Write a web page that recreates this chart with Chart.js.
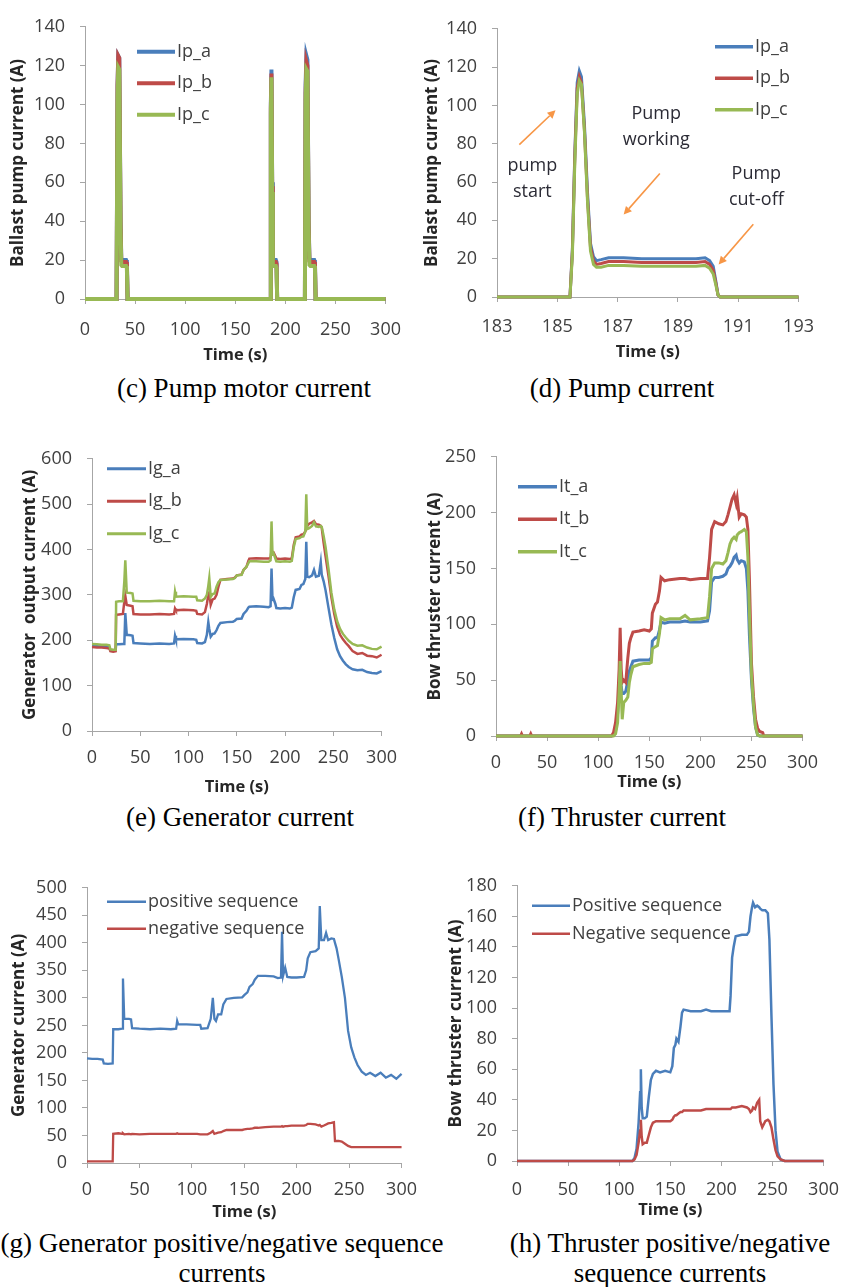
<!DOCTYPE html>
<html>
<head>
<meta charset="utf-8">
<script src="https://cdn.jsdelivr.net/npm/chart.js@4.4.1/dist/chart.umd.min.js"></script>
<style>
  html, body { margin: 0; padding: 0; background: #fff; }
  #page { position: relative; width: 851px; height: 1287px; overflow: hidden; background: #fff; }
  #page canvas { position: absolute; }
  .cap { position: absolute; font-family: "Liberation Serif", "Times New Roman", serif; font-size: 27px;
         line-height: 30px; color: #000; text-align: center; white-space: nowrap; transform: translateX(-50%); }
</style>
</head>
<body>
<div id="page"></div>
<script>
// ---- (c) pump motor current, whole run ----
var tPump = [0, 31.5, 32.5, 33.2, 34.2, 35.5, 36.2, 37, 41, 41.8, 42.5,
             184.8, 185.5, 186.1, 186.8, 187.5, 188.2, 190.5, 191.2, 191.8,
             219.5, 220.2, 221, 222, 223.2, 224, 225, 228.8, 229.5, 230.2, 300];
var ipA = [0, 0, 110, 125, 124, 40, 21, 20, 20, 19, 0,
           0, 100, 118, 60, 21, 20, 20, 19, 0,
           0, 110, 125, 123, 40, 21, 20, 20, 19, 0, 0];
var ipB = [0, 0, 110, 125, 124, 38, 19.5, 19, 19, 18, 0,
           0, 98, 116, 58, 19.5, 19, 19, 18, 0,
           0, 106, 122, 120, 38, 19.5, 19, 19, 18, 0, 0];
var ipC = [0, 0, 104, 119, 118, 35, 17.5, 17, 17, 16, 0,
           0, 95, 114, 55, 17.5, 17, 17, 16, 0,
           0, 102, 118, 117, 35, 17.5, 17, 17, 16, 0, 0];

// ---- (d) one pump start, 183-193 s ----
var tDetail = [183, 185.42, 185.5, 185.58, 185.66, 185.73, 185.8, 185.9, 186.0, 186.1,
               186.2, 186.3, 186.45, 186.7, 187.2, 187.8, 188.4, 189.0, 189.6, 189.9,
               190.05, 190.17, 190.26, 190.33, 190.4, 193];
var ipDetA = [0, 0, 25, 75, 112, 118, 115, 90, 55, 28,
              21, 19, 19.5, 20.5, 20.5, 20, 20, 20, 20, 20.5,
              19, 16, 8, 1, 0, 0];
var ipDetB = [0, 0, 24, 73, 109, 115, 112, 87, 52, 26,
              19, 17, 17.5, 18.5, 18.5, 18, 18, 18, 18, 18.5,
              17, 14, 7, 1, 0, 0];
var ipDetC = [0, 0, 22, 70, 106, 113, 111, 86, 50, 24,
              17, 15.5, 15.5, 16.5, 16.5, 16, 16, 16, 16, 16.5,
              15, 12, 6, 1, 0, 0];

// ---- (e) generator phase currents ----
var tGen = [0, 5, 10, 15, 18, 19, 22, 24.5, 25, 28,
            32, 33.5, 34.5, 36, 40, 42, 43, 50, 60, 70,
            80, 85, 86, 87, 95, 105, 108, 109, 114, 117,
            119, 120.5, 121.5, 123, 125, 127, 129, 131, 133, 140,
            146, 148, 150, 155, 157, 160, 162, 163, 170, 178,
            183, 185, 186, 187, 188, 190, 191, 195, 200, 205,
            207, 209, 211, 215, 217, 219, 221, 222, 223, 225,
            228, 230, 232, 235, 237, 238, 240, 242, 245, 248,
            251, 254, 257, 260, 263, 266, 270, 275, 280, 285,
            290, 295, 300];
var igA = [188, 187, 186, 186, 185, 178, 177, 178, 191, 191,
           192, 192, 260, 212, 211, 210, 194, 193, 192, 193,
           192, 193, 210, 202, 203, 202, 201, 194, 193, 196,
           212, 240, 225, 208, 214, 215, 222, 232, 238, 240,
           241, 243, 247, 248, 258, 265, 272, 274, 275, 274,
           273, 275, 358, 290, 292, 280, 271, 270, 271, 270,
           272, 295, 311, 313, 322, 324, 335, 417, 340, 339,
           343, 355, 340, 342, 372, 345, 330, 310, 272, 235,
           205, 180, 165, 155, 147, 141, 136, 134, 135, 130,
           128, 127, 132];
var igB = [185, 184, 184, 183, 182, 176, 175, 176, 256, 257,
           258, 285, 298, 278, 276, 275, 258, 257, 257, 258,
           257, 258, 270, 266, 267, 266, 265, 258, 257, 262,
           280, 300, 305, 278, 290, 292, 300, 318, 333, 335,
           336, 338, 343, 345, 355, 362, 375, 380, 381, 380,
           380, 382, 398, 395, 394, 385, 380, 379, 380, 379,
           381, 410, 427, 429, 433, 434, 440, 447, 452, 457,
           460, 463, 456, 455, 452, 448, 415, 385, 342, 295,
           258, 230, 212, 202, 194, 187, 176, 170, 172, 166,
           165, 162, 168];
var igC = [192, 191, 190, 190, 189, 180, 179, 179, 285, 286,
           286, 330, 376, 305, 304, 303, 287, 286, 286, 287,
           286, 286, 307, 296, 297, 296, 296, 288, 287, 292,
           300, 320, 337, 296, 302, 303, 318, 328, 333, 334,
           335, 337, 343, 344, 355, 362, 370, 374, 374, 373,
           373, 376, 462, 390, 392, 380, 374, 373, 374, 373,
           375, 405, 423, 425, 428, 429, 440, 522, 445, 447,
           452, 460, 451, 450, 452, 450, 430, 405, 358, 305,
           268, 242, 225, 214, 206, 199, 192, 188, 189, 184,
           181, 180, 186];

// ---- (f) bow thruster phase currents ----
var tThr = [0, 24, 25, 26, 33, 34, 35, 113, 115, 117,
            119, 120.5, 121.5, 122.5, 123.5, 125, 127, 129, 130.5, 132,
            134, 140, 145, 150, 152, 153, 156, 158, 160, 161.5,
            165, 170, 180, 185, 190, 200, 207, 209, 211, 214,
            218, 222, 225, 227, 229, 231, 233, 235, 236, 238,
            240, 243, 245, 246.5, 248, 250, 252, 254, 256, 258,
            261, 262, 300];
var itA = [0, 0, 0, 0, 0, 0, 0, 0, 1, 5,
           20, 40, 55, 45, 38, 38, 40, 50, 58, 62,
           67, 68, 68, 68, 70, 85, 88, 88, 95, 102,
           101, 102, 102, 103, 102, 102, 103, 112, 138, 142,
           142, 143, 145, 150, 152, 155, 160, 162, 158, 155,
           157, 156, 150, 130, 90, 50, 25, 8, 1, 0,
           0, 0, 0];
var itB = [0, 0, 2, 0, 0, 2, 0, 0, 3, 12,
           30, 60, 97, 60, 48, 50, 48, 70, 83, 88,
           93, 94, 95, 94, 96, 110, 118, 120, 130, 142,
           139, 140, 141, 141, 140, 141, 141, 160, 185, 192,
           190, 189, 192, 198, 205, 212, 216, 208, 213, 196,
           199, 198, 196, 185, 140, 65, 35, 15, 7, 4,
           3, 0, 0];
var itC = [0, 0, 0, 0, 0, 0, 0, 0, 0, 2,
           12, 40, 67, 40, 15, 30, 32, 35, 48, 55,
           62, 64, 65, 65, 66, 78, 80, 81, 92, 106,
           104, 105, 105, 108, 104, 105, 106, 125, 150, 155,
           155, 154, 157, 164, 172, 176, 178, 176, 180, 182,
           183, 185, 183, 160, 110, 55, 28, 8, 1, 0,
           0, 0, 0];

// ---- (g) generator sequence components ----
var tSeqG = [0, 5, 10, 15, 16, 20, 24.5, 25, 30, 33.5,
             34.3, 35.5, 40, 42, 43, 50, 60, 70, 80, 85,
             86, 87, 95, 105, 108, 109, 115, 118, 120, 121.5,
             123, 125, 128, 130, 133, 140, 148, 150, 153, 155,
             158, 160, 163, 170, 178, 182, 185, 186, 187, 189,
             191, 195, 200, 207, 209, 210.5, 213, 218, 221, 222,
             223.5, 226, 228, 230, 233, 235.5, 236.5, 238, 240, 243,
             246, 249, 252, 255, 258, 262, 266, 270, 275, 280,
             285, 290, 295, 300];
var posG = [190, 189, 189, 188, 181, 180, 181, 243, 243, 244,
            335, 262, 262, 261, 245, 244, 243, 244, 243, 244,
            258, 252, 252, 251, 251, 244, 245, 262, 300, 262,
            258, 270, 270, 288, 298, 300, 301, 305, 310, 320,
            325, 333, 340, 340, 339, 336, 337, 420, 340, 355,
            338, 337, 337, 338, 350, 372, 383, 385, 390, 467,
            405, 405, 418, 405, 408, 407, 400, 390, 370, 338,
            300, 240, 210, 192, 178, 166, 160, 164, 158, 164,
            155, 160, 153, 162];
var negG = [3, 3, 3, 3, 3, 3, 3, 53, 54, 53,
            54, 52, 53, 52, 53, 52, 53, 53, 53, 53,
            54, 53, 53, 53, 52, 52, 52, 55, 58, 53,
            54, 55, 56, 58, 60, 60, 60, 61, 62, 62,
            63, 64, 64, 65, 66, 66, 66, 67, 66, 67,
            67, 68, 68, 68, 69, 71, 71, 70, 68, 69,
            66, 68, 70, 72, 73, 74, 40, 40, 40, 39,
            35, 31, 29, 29, 29, 29, 29, 29, 29, 29,
            29, 29, 29, 29];

// ---- (h) thruster sequence components ----
var tSeqT = [0, 113, 115, 117, 119, 120.5, 121.2, 122, 123, 125,
             127, 129, 131, 133, 136, 140, 145, 150, 152, 153.5,
             155, 156, 158, 160, 161.5, 163, 170, 180, 185, 190,
             200, 208, 209, 210.5, 212, 214, 220, 225, 227, 228.5,
             230, 231, 233, 235, 237, 238, 240, 243, 245.5, 247,
             249, 251, 253, 255, 258, 262, 300];
var posT = [0, 0, 2, 8, 25, 45, 60, 35, 28, 28,
            29, 42, 53, 57, 59, 58, 59, 58, 62, 74,
            76, 80, 78, 88, 97, 99, 98, 98, 99, 98,
            98, 98, 108, 133, 140, 147, 148, 148, 150, 160,
            166, 169, 166, 167, 166, 165, 164, 164, 162, 145,
            95, 50, 20, 6, 1, 0, 0];
var negT = [0, 0, 1, 4, 12, 20, 27, 16, 11, 12,
            12, 17, 22, 25, 26, 26, 26, 26, 27, 29,
            30, 30, 31, 32, 32, 33, 33, 33, 34, 34,
            34, 34, 34, 35, 35, 35, 36, 35, 34, 32,
            33, 35, 34, 38, 40, 26, 22, 26, 27, 26,
            22, 14, 7, 3, 1, 0, 0];

// text and arrows over the pump start plot, in axis units (s, A)
var pumpLabels = [
  { lines: ["pump", "start"], x: 184.17, y: [68.5, 55] },
  { lines: ["Pump", "working"], x: 188.28, y: [95.5, 82] },
  { lines: ["Pump", "cut-off"], x: 191.6, y: [64.5, 50.5] }
];
var pumpArrows = [
  { from: [183.74, 79.5], to: [184.94, 97.5] },
  { from: [188.4, 64.5], to: [187.2, 43] },
  { from: [191.5, 38], to: [190.35, 17] }
];

var BLUE = "#4a7ebb", RED = "#be4b48", GREEN = "#98b954", ORANGE = "#f79646";
var AXIS = "#a6a6a6", INK = "#404040", TITLE_INK = "#262626";
var SANS = "'Open Sans', 'DejaVu Sans', sans-serif";
var PAD_T = 14, PAD_R = 22;

var page = document.getElementById("page");

function pts(xs, ys) {
  return xs.map(function (x, i) { return { x: x, y: ys[i] }; });
}

function series(label, xs, ys, color, width, order) {
  return {
    label: label, data: pts(xs, ys), borderColor: color, backgroundColor: color,
    borderWidth: width, pointRadius: 0, tension: 0, fill: false, clip: false, order: order
  };
}

function axis(min, max, step, title, tickPad, titleSize) {
  return {
    type: "linear", min: min, max: max,
    ticks: { stepSize: step, padding: tickPad, color: INK, font: { family: SANS, size: 18, lineHeight: 1.2 } },
    grid: { drawOnChartArea: false, drawTicks: true, tickLength: 5, color: AXIS },
    border: { color: AXIS, width: 1 },
    title: { display: true, text: title, color: TITLE_INK, padding: 0,
             font: { family: SANS, size: titleSize, weight: "bold", lineHeight: 1.2 } }
  };
}

// legend drawn inside the plot area, one row per dataset
var innerLegend = {
  id: "innerLegend",
  afterDatasetsDraw: function (chart, args, opts) {
    var ctx = chart.ctx, area = chart.chartArea;
    ctx.save();
    ctx.font = "18px " + SANS;
    ctx.textBaseline = "middle";
    chart.data.datasets.forEach(function (ds, i) {
      var x = area.left + opts.x, y = area.top + opts.y + i * opts.gap;
      ctx.strokeStyle = ds.borderColor;
      ctx.lineWidth = opts.width;
      ctx.beginPath(); ctx.moveTo(x, y); ctx.lineTo(x + opts.len, y); ctx.stroke();
      ctx.fillStyle = INK;
      ctx.fillText(ds.label, x + opts.len + 2, y);
    });
    ctx.restore();
  }
};

var pumpNotes = {
  id: "pumpNotes",
  afterDatasetsDraw: function (chart) {
    var xs = chart.scales.x, ys = chart.scales.y, ctx = chart.ctx;
    ctx.save();
    ctx.font = "18px " + SANS;
    ctx.fillStyle = "#2b2b35";
    ctx.textAlign = "center";
    ctx.textBaseline = "middle";
    pumpLabels.forEach(function (l) {
      l.lines.forEach(function (s, i) {
        ctx.fillText(s, xs.getPixelForValue(l.x), ys.getPixelForValue(l.y[i]));
      });
    });
    ctx.strokeStyle = ORANGE; ctx.fillStyle = ORANGE; ctx.lineWidth = 1.6;
    pumpArrows.forEach(function (a) {
      var x1 = xs.getPixelForValue(a.from[0]), y1 = ys.getPixelForValue(a.from[1]);
      var x2 = xs.getPixelForValue(a.to[0]), y2 = ys.getPixelForValue(a.to[1]);
      var ang = Math.atan2(y2 - y1, x2 - x1), hl = 8, hw = 4;
      var bx = x2 - hl * Math.cos(ang), by = y2 - hl * Math.sin(ang);
      ctx.beginPath(); ctx.moveTo(x1, y1); ctx.lineTo(bx, by); ctx.stroke();
      ctx.beginPath();
      ctx.moveTo(x2, y2);
      ctx.lineTo(bx + hw * Math.sin(ang), by - hw * Math.cos(ang));
      ctx.lineTo(bx - hw * Math.sin(ang), by + hw * Math.cos(ang));
      ctx.closePath(); ctx.fill();
    });
    ctx.restore();
  }
};

// b: canvas left, plot box x0..x1 / top..bottom, x-axis band height
function panel(b, datasets, xAxis, yAxis, legend, extra) {
  var canvas = document.createElement("canvas");
  var top = b.top - PAD_T;
  var w = b.x1 - b.L + PAD_R, h = b.bottom + b.hx - top;
  canvas.width = w; canvas.height = h;
  canvas.style.left = b.L + "px"; canvas.style.top = top + "px";
  canvas.style.width = w + "px"; canvas.style.height = h + "px";
  page.appendChild(canvas);
  xAxis.afterFit = function (s) { s.height = b.hx; };
  yAxis.afterFit = function (s) { s.width = b.x0 - b.L; };
  new Chart(canvas, {
    type: "line",
    data: { datasets: datasets },
    options: {
      responsive: false, animation: false, devicePixelRatio: 1,
      layout: { padding: { top: PAD_T, right: PAD_R, left: 0, bottom: 0 } },
      plugins: { legend: { display: false }, tooltip: { enabled: false }, innerLegend: legend },
      scales: { x: xAxis, y: yAxis }
    },
    plugins: [innerLegend].concat(extra || [])
  });
}

function caption(lines, cx, cy) {
  var d = document.createElement("div");
  d.className = "cap";
  d.innerHTML = lines.join("<br>");
  d.style.left = cx + "px";
  d.style.top = (cy - 15) + "px";
  page.appendChild(d);
}

panel({ L: 8, x0: 85, x1: 394, top: 15, bottom: 299, hx: 66 },
  [series("Ip_a", tPump, ipA, BLUE, 4, 2),
   series("Ip_b", tPump, ipB, RED, 4, 1),
   series("Ip_c", tPump, ipC, GREEN, 4, 0)],
  axis(0, 300, 50, "Time (s)", 15, 16.5), axis(0, 140, 20, "Ballast pump current (A)", 15, 17),
  { x: 52, y: 25, gap: 31.5, len: 38, width: 4 });

panel({ L: 422, x0: 497, x1: 806, top: 17, bottom: 297, hx: 65 },
  [series("Ip_a", tDetail, ipDetA, BLUE, 3, 2),
   series("Ip_b", tDetail, ipDetB, RED, 3, 1),
   series("Ip_c", tDetail, ipDetC, GREEN, 3, 0)],
  axis(183, 193, 2, "Time (s)", 14, 16.5), axis(0, 140, 20, "Ballast pump current (A)", 15, 17),
  { x: 218, y: 18, gap: 31.5, len: 38, width: 3.5 }, [pumpNotes]);

panel({ L: 20, x0: 92, x1: 386, top: 447, bottom: 731, hx: 66 },
  [series("Ig_a", tGen, igA, BLUE, 2.5, 2),
   series("Ig_b", tGen, igB, RED, 2.5, 1),
   series("Ig_c", tGen, igC, GREEN, 2.5, 0)],
  axis(0, 300, 50, "Time (s)", 11, 16.5), axis(0, 600, 100, "Generator  output current (A)", 15, 17),
  { x: 15, y: 10, gap: 32.5, len: 39, width: 3 });

panel({ L: 425, x0: 496, x1: 807, top: 445, bottom: 736, hx: 56 },
  [series("It_a", tThr, itA, BLUE, 3, 2),
   series("It_b", tThr, itB, RED, 3, 1),
   series("It_c", tThr, itC, GREEN, 3, 0)],
  axis(0, 300, 50, "Time (s)", 11, 16.5), axis(0, 250, 50, "Bow thruster current (A)", 15, 17),
  { x: 22, y: 30, gap: 32.5, len: 39, width: 3.5 });

panel({ L: 9, x0: 87, x1: 406, top: 876, bottom: 1163, hx: 59 },
  [series("positive sequence", tSeqG, posG, BLUE, 2.3, 1),
   series("negative sequence", tSeqG, negG, RED, 2.3, 0)],
  axis(0, 300, 50, "Time (s)", 11, 16.5), axis(0, 500, 50, "Generator current (A)", 15, 17),
  { x: 20, y: 14, gap: 27, len: 39, width: 2.5 });

panel({ L: 446, x0: 517, x1: 830, top: 874, bottom: 1161, hx: 59 },
  [series("Positive sequence", tSeqT, posT, BLUE, 2.5, 1),
   series("Negative sequence", tSeqT, negT, RED, 2.5, 0)],
  axis(0, 300, 50, "Time (s)", 13, 16.5), axis(0, 180, 20, "Bow thruster current (A)", 15, 17),
  { x: 15, y: 20, gap: 28, len: 38, width: 2.5 });

caption(["(c) Pump motor current"], 244, 388);
caption(["(d) Pump current"], 622, 388);
caption(["(e) Generator current"], 240, 817);
caption(["(f) Thruster current"], 622, 817);
caption(["(g) Generator positive/negative sequence", "currents"], 222, 1243);
caption(["(h) Thruster positive/negative", "sequence currents"], 670, 1243);
</script>
</body>
</html>
